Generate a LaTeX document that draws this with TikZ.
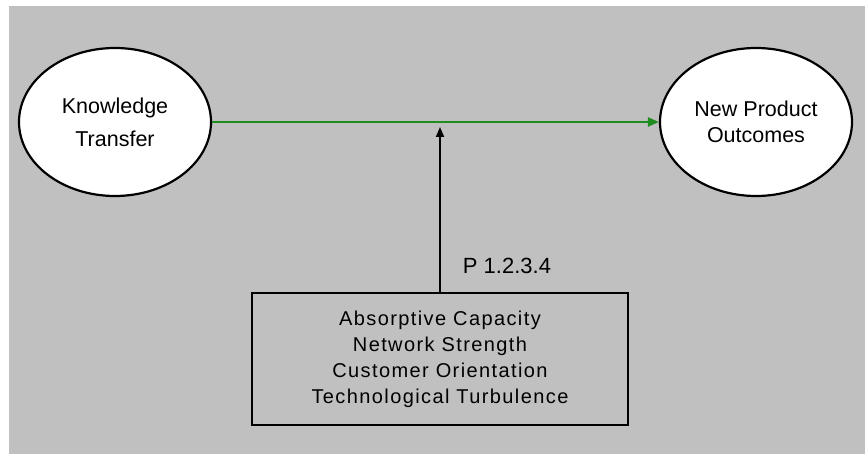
\documentclass[tikz,border=0pt]{standalone}
\usepackage{fontspec}
\setmainfont{Liberation Sans}
\usetikzlibrary{arrows.meta,shapes.geometric}
\definecolor{bggray}{RGB}{192,192,192}
\definecolor{linkgreen}{RGB}{30,140,30}
\tikzset{
  construct/.style={ellipse, draw=black, line width=2.2pt, fill=white,
    minimum width=192pt, minimum height=148pt, inner sep=0pt, align=center,
    font=\fontsize{21.5}{26}\selectfont},
  modbox/.style={draw=black, line width=2.8pt, minimum width=376pt, minimum height=132pt,
    inner sep=0pt, align=center, font=\fontsize{20}{26}\selectfont\addfontfeatures{LetterSpace=7}},
  greenlink/.style={draw=linkgreen, line width=2.5pt, -{Triangle[length=11pt,width=9pt]}},
  modlink/.style={draw=black, line width=1.8pt, -{Triangle[length=10pt,width=8pt]}},
  plabel/.style={font=\fontsize{22}{26}\selectfont, inner sep=0pt}
}
\begin{document}
\begin{tikzpicture}[x=1pt,y=-1pt]
\useasboundingbox (0,0) rectangle (865,454);
\fill[white] (0,0) rectangle (865,454);
\fill[bggray] (9,6) rectangle (865,454);
\node[construct] (kt) at (115,122) {Knowledge\\[7pt]Transfer};
\node[construct] (npo) at (756,122) {New Product\\Outcomes};
\node[modbox] (mod) at (440,359) {Absorptive Capacity\\Network Strength\\Customer Orientation\\Technological Turbulence};
\coordinate (hit) at (440,127);
\draw[greenlink] (kt.east) -- (npo.west);
\draw[modlink] (mod.north) -- (hit);
\node[plabel] (p) at (507,266) {P 1.2.3.4};
\end{tikzpicture}
\end{document}
